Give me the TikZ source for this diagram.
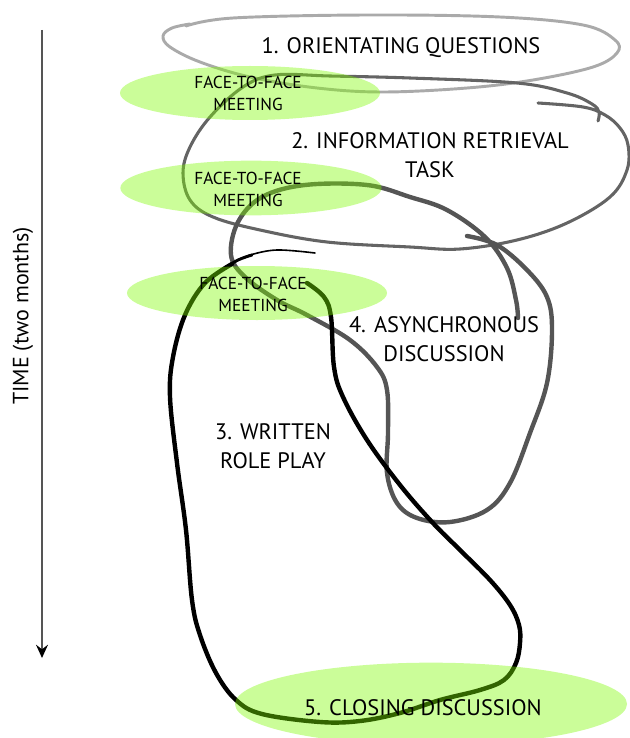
\documentclass[tikz,border=0pt]{standalone}
\usepackage{fontspec}
\setmainfont{PT Sans}
\usetikzlibrary{arrows.meta,shapes.geometric}
\definecolor{lightline}{RGB}{170,170,170}
\definecolor{midline}{RGB}{100,100,100}
\definecolor{darkline}{RGB}{85,85,85}
\definecolor{meetgreen}{RGB}{125,250,0}
\tikzset{
  loopline/.style={line cap=round, line join=round},
  meeting/.style={ellipse, fill=meetgreen, fill opacity=0.4, draw=none, inner sep=0pt},
  bigtext/.style={font=\fontsize{16.8}{21.5}\selectfont, align=center, inner sep=0pt},
  smalltext/.style={font=\fontsize{13}{16.5}\selectfont, align=center, inner sep=0pt},
}
\begin{document}
\begin{tikzpicture}[x=0.75pt,y=-0.75pt]
\useasboundingbox (0,0) rectangle (630,738);
% time arrow
\coordinate (ta) at (42,30);
\coordinate (tb) at (42,658);
\draw[darkline, line width=1.1pt, -{Stealth[length=10pt,width=9pt,inset=3.5pt,black]}] (ta) -- (tb);
\node[inner sep=0pt, font=\fontsize{16.5}{18}\selectfont, rotate=90] (time) at (23,316) {TIME (two months)};

% 1. orientating questions loop
\draw[loopline, lightline, line width=2.2pt] plot[smooth, tension=0.6] coordinates {
(186,26) (233,18) (367,15) (500,17) (583,25) (615,40) (617,53) (593,67) (533,80) (467,88) (383,92) (317,88) (250,77) (200,62) (170,47) (163,36) (172,28) (190,24)};

% 2. information retrieval loop
\draw[loopline, midline, line width=2.3pt] plot[smooth, tension=0.6] coordinates {
(538,103) (583,107) (605,115) (620,128) (628,145) (627,170) (610,197) (567,223) (517,240) (460,249) (410,247) (327,242) (260,230) (213,217) (190,200) (183,173) (190,147) (210,117) (243,87) (275,75) (330,76) (410,78) (517,83) (567,93) (592,104) (599,112) (598,121)};

% 4. asynchronous discussion loop
\draw[loopline, darkline, line width=3.3pt] plot[smooth, tension=0.6] coordinates {
(467,236) (497,245) (527,270) (547,297) (552,330) (547,383) (530,433) (510,483) (487,510) (450,522) (417,518) (397,503) (387,473) (388,433) (387,390) (377,367) (350,340) (307,315) (277,300) (245,277) (231,255) (238,222) (262,197) (305,185) (367,185) (410,197) (447,210) (485,237) (507,268) (516,300) (518,318)};

% 3. written role play loop
\draw[loopline, black, line width=1.2pt] plot[smooth, tension=0.6] coordinates {
(315,253) (277,250) (250,255) (236,261)};
\draw[loopline, black, line width=2.2pt] plot[smooth, tension=0.6] coordinates {
(252,255) (238,260) (225,268)};
\draw[loopline, black, line width=3.3pt] plot[smooth, tension=0.6] coordinates {
(232,264) (205,283) (185,315) (173,357) (170,397) (177,463) (186,530) (192,600) (200,635) (216,673) (236,700) (262,714) (320,722) (360,721) (400,713) (440,700) (480,690) (504,680) (516,663) (520,643) (519,625) (510,605) (490,580) (460,550) (432,522) (400,485) (367,440) (343,397) (334,367) (331,317) (324,297) (307,283)};

% meetings
\node[meeting, minimum width=195pt, minimum height=40.5pt] (m1) at (250,93) {};
\node[meeting, minimum width=196pt, minimum height=41pt] (m2) at (251,188) {};
\node[meeting, minimum width=195pt, minimum height=40.5pt] (m3) at (257,293) {};
\node[meeting, minimum width=294pt, minimum height=62pt] (m5) at (431,704) {};

% texts
\node[smalltext] (m1t) at (248,93) {FACE-TO-FACE\\MEETING};
\node[smalltext] (m2t) at (248,189) {FACE-TO-FACE\\MEETING};
\node[smalltext] (m3t) at (253,294) {FACE-TO-FACE\\MEETING};
\node[bigtext] (t1) at (401,48) {1. ORIENTATING QUESTIONS};
\node[bigtext] (t2) at (430,155) {2. INFORMATION RETRIEVAL\\TASK};
\node[bigtext] (t3) at (273,446) {3. WRITTEN\\ROLE PLAY};
\node[bigtext] (t4) at (444,339) {4. ASYNCHRONOUS\\DISCUSSION};
\node[bigtext] (t5) at (423,708) {5. CLOSING DISCUSSION};
\end{tikzpicture}
\end{document}
